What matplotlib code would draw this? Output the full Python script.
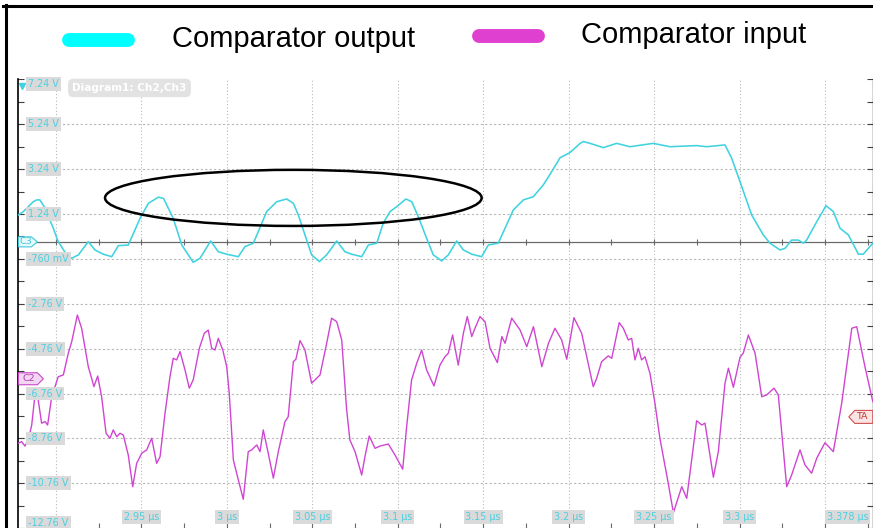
import numpy as np
import matplotlib.pyplot as plt
import matplotlib.transforms as mtransforms
from matplotlib.lines import Line2D
from matplotlib.patches import Ellipse, Polygon

W, H, DPI = 873, 528, 100

# Ch3: comparator output (time in us, volts on the display scale)
out_t = [2.878, 2.8809, 2.8867, 2.8887, 2.8906, 2.8936, 2.8984, 2.9013, 2.9063, 2.9092,
         2.9131, 2.9189, 2.9228, 2.9277, 2.9326, 2.9365, 2.9423, 2.9492, 2.9541, 2.9599,
         2.9629, 2.9686, 2.9736, 2.9803, 2.9843, 2.9905, 2.9950, 2.9999, 3.0067, 3.0106,
         3.0155, 3.0233, 3.0292, 3.0350, 3.0389, 3.0418, 3.0457, 3.0496, 3.0541, 3.0584,
         3.0643, 3.0691, 3.0731, 3.0789, 3.0828, 3.0877, 3.0915, 3.0955, 3.0994, 3.1048,
         3.1082, 3.1120, 3.1169, 3.1208, 3.1257, 3.1296, 3.1345, 3.1384, 3.1433, 3.1491,
         3.1530, 3.1588, 3.1628, 3.1676, 3.1735, 3.1793, 3.1852, 3.1901, 3.1950, 3.2008,
         3.2067, 3.2086, 3.2125, 3.2203, 3.2281, 3.2359, 3.2495, 3.2593, 3.2749, 3.2808,
         3.2915, 3.2954, 3.3003, 3.3071, 3.3139, 3.3178, 3.3237, 3.3266, 3.3305, 3.3344,
         3.3374, 3.3393, 3.3452, 3.3506, 3.3549, 3.3588, 3.3637, 3.3696, 3.3724, 3.378]
out_v = [1.20, 1.35, 1.79, 1.87, 1.87, 1.50, 0.61, 0.01, -0.58, -0.73,
         -0.58, 0.01, -0.36, -0.55, -0.66, -0.17, -0.14, 1.05, 1.72, 1.99,
         1.94, 1.05, -0.14, -0.91, -0.73, 0.04, -0.44, -0.55, -0.66, -0.21,
         -0.06, 1.35, 1.79, 1.91, 1.72, 1.20, 0.31, -0.58, -0.88, -0.58,
         0.04, -0.44, -0.55, -0.66, -0.14, -0.06, 0.83, 1.35, 1.57, 1.91,
         1.79, 1.12, 0.16, -0.58, -0.85, -0.58, 0.04, -0.36, -0.55, -0.66,
         -0.14, -0.06, 0.61, 1.42, 1.87, 2.01, 2.54, 3.13, 3.75, 3.98,
         4.39, 4.47, 4.39, 4.20, 4.39, 4.24, 4.39, 4.24, 4.29, 4.24,
         4.32, 3.73, 2.68, 1.20, 0.31, -0.06, -0.36, -0.29, 0.08, 0.08,
         -0.06, 0.08, 0.90, 1.61, 1.35, 0.61, 0.31, -0.55, -0.55, -0.06]

# Ch2: comparator input
in_t = [2.878, 2.8799, 2.8818, 2.8838, 2.8858, 2.8877, 2.8893, 2.8916, 2.8936, 2.8951,
        2.8975, 2.9013, 2.9043, 2.9072, 2.9092, 2.9125, 2.9150, 2.9189, 2.9222, 2.9244,
        2.9267, 2.9293, 2.9316, 2.9335, 2.9355, 2.9375, 2.9394, 2.9423, 2.9449, 2.9472,
        2.9502, 2.9531, 2.9560, 2.9589, 2.9609, 2.9638, 2.9667, 2.9686, 2.9706, 2.9726,
        2.9755, 2.9780, 2.9803, 2.9839, 2.9868, 2.9891, 2.9911, 2.9930, 2.9950, 2.9976,
        2.9999, 3.0014, 3.0038, 3.0067, 3.0096, 3.0125, 3.0145, 3.0175, 3.0194, 3.0213,
        3.0242, 3.0272, 3.0301, 3.0340, 3.0359, 3.0389, 3.0404, 3.0428, 3.0457, 3.0496,
        3.0545, 3.0584, 3.0613, 3.0643, 3.0672, 3.0701, 3.0720, 3.0750, 3.0789, 3.0808,
        3.0833, 3.0867, 3.0896, 3.0945, 3.0984, 3.1029, 3.1052, 3.1081, 3.1111, 3.1140,
        3.1169, 3.1212, 3.1247, 3.1276, 3.1296, 3.1321, 3.1354, 3.1384, 3.1407, 3.1433,
        3.1452, 3.1481, 3.1511, 3.1540, 3.1583, 3.1609, 3.1628, 3.1667, 3.1716, 3.1755,
        3.1794, 3.1843, 3.1882, 3.1920, 3.1959, 3.1989, 3.2031, 3.2076, 3.2106, 3.2144,
        3.2164, 3.2193, 3.2232, 3.2252, 3.2296, 3.2320, 3.2349, 3.2369, 3.2388, 3.2408,
        3.2427, 3.2447, 3.2476, 3.2505, 3.2534, 3.2583, 3.2613, 3.2662, 3.2691, 3.2720,
        3.2749, 3.2779, 3.2798, 3.2847, 3.2876, 3.2915, 3.2935, 3.2964, 3.3003, 3.3022,
        3.3052, 3.3091, 3.3130, 3.3159, 3.3202, 3.3227, 3.3276, 3.3305, 3.3354, 3.3383,
        3.3422, 3.3452, 3.3500, 3.3549, 3.3598, 3.3657, 3.3686, 3.3734, 3.378]
in_v = [-8.97, -8.90, -9.10, -8.83, -8.16, -6.82, -6.90, -8.08, -8.01, -8.16,
        -6.90, -6.01, -5.93, -4.96, -4.45, -3.26, -3.85, -5.56, -6.45, -5.98,
        -6.90, -8.53, -8.75, -8.38, -8.68, -8.53, -8.61, -9.50, -10.91, -9.87,
        -9.42, -9.27, -8.75, -9.87, -9.57, -7.64, -6.01, -5.19, -5.26, -4.89,
        -5.71, -6.52, -6.15, -4.74, -4.07, -3.93, -4.74, -4.82, -4.30, -4.82,
        -5.56, -6.75, -9.72, -10.61, -11.47, -9.35, -9.27, -9.05, -9.35, -8.38,
        -9.42, -10.53, -9.35, -8.01, -7.79, -5.34, -5.23, -4.40, -4.82, -6.30,
        -5.93, -4.52, -3.40, -3.56, -4.37, -7.49, -8.83, -9.35, -10.39, -9.57,
        -8.65, -9.20, -9.10, -9.01, -9.50, -10.13, -8.24, -6.15, -5.41, -4.82,
        -5.71, -6.42, -5.49, -5.12, -4.96, -4.15, -5.49, -4.07, -3.33, -4.22,
        -3.85, -3.33, -3.56, -4.74, -5.38, -4.22, -4.52, -3.40, -3.93, -4.67,
        -3.78, -5.56, -4.52, -3.85, -4.37, -5.23, -3.38, -4.07, -5.12, -6.45,
        -6.08, -5.34, -5.08, -5.19, -3.60, -3.85, -4.37, -4.30, -5.26, -4.74,
        -5.26, -5.12, -5.86, -7.19, -8.75, -10.76, -12.07, -10.91, -11.43, -9.72,
        -7.97, -8.16, -8.08, -10.49, -9.35, -6.30, -5.63, -6.48, -5.14, -4.96,
        -4.15, -4.96, -6.90, -6.82, -6.52, -6.82, -10.91, -10.39, -9.27, -9.94,
        -10.31, -9.64, -8.95, -9.35, -7.19, -3.85, -3.78, -5.56, -7.12]

v_grid = [7.24, 5.24, 3.24, 1.24, -0.76, -2.76, -4.76, -6.76, -8.76, -10.76, -12.76]
v_labels = ['7.24 V', '5.24 V', '3.24 V', '1.24 V', '-760 mV', '-2.76 V', '-4.76 V',
            '-6.76 V', '-8.76 V', '-10.76 V', '-12.76 V']
t_grid = [2.9, 2.95, 3.0, 3.05, 3.1, 3.15, 3.2, 3.25, 3.3, 3.35]
t_labels = ['2.95 µs', '3 µs', '3.05 µs', '3.1 µs', '3.15 µs', '3.2 µs', '3.25 µs', '3.3 µs']
t_label_pos = [2.95, 3.0, 3.05, 3.1, 3.15, 3.2, 3.25, 3.3]
t_end_label = '3.378 µs'

t_min, t_max = 2.878, 3.378
v_min, v_max = -12.76, 7.24
ch3_level, ch2_level, trig_level = 0.0, -6.1, -7.8

# oval drawn around the three small output pulses
oval_center = (3.0389, 1.96)
oval_size = (0.2204, 2.5)

cyan_trace = '#3fd3e0'
magenta_trace = '#cf45d2'
label_cyan = '#4ccfe0'
grid_col = '#b8b8b8'

fig = plt.figure(figsize=(W / DPI, H / DPI), dpi=DPI)
fig.patch.set_facecolor('white')


def fx(x):
    return x / W


def fy(y):
    return 1 - y / H


ax = fig.add_axes([fx(18.4), -0.2 / H, (872.8 - 18.4) / W, 448.8 / H])
ax.set_xlim(t_min, t_max)
ax.set_ylim(v_min, v_max)
ax.set_xticks([])
ax.set_yticks([])
for side in ['top', 'bottom']:
    ax.spines[side].set_visible(False)
ax.spines['left'].set_color('black')
ax.spines['left'].set_linewidth(1.2)
ax.spines['right'].set_color('#303030')
ax.spines['right'].set_linewidth(1.0)

# scope graticule
for v in v_grid[1:-1]:
    ax.axhline(v, color=grid_col, lw=0.8, ls=(0, (2, 2)), zorder=1)
for t in t_grid:
    ax.axvline(t, color=grid_col, lw=0.8, ls=(0, (1, 2)), zorder=1)

# ground axis of ch3 with its minor ticks
ax.axhline(ch3_level, color='#6a6a6a', lw=0.9, zorder=2)
minor_t = np.arange(2.9, t_max, 0.025)
ax.plot(minor_t, np.full_like(minor_t, ch3_level), ls='none', marker='|', ms=4,
        mew=0.8, color='#6a6a6a', zorder=2)
ax.plot(minor_t, np.full_like(minor_t, v_min), ls='none', marker='|', ms=7,
        mew=0.8, color='#6a6a6a', zorder=2)
minor_v = np.arange(v_min, v_max + 0.01, 1.0)
ax.plot(np.full_like(minor_v, t_min), minor_v, ls='none', marker='_', ms=8,
        mew=0.8, color='#404040', zorder=2)
ax.plot(np.full_like(minor_v, t_max), minor_v, ls='none', marker='_', ms=8,
        mew=0.8, color='#404040', zorder=2)

# traces
ax.plot(out_t, out_v, color=cyan_trace, lw=1.15, zorder=4)
ax.plot(in_t, in_v, color=magenta_trace, lw=1.0, zorder=4)

ax.add_patch(Ellipse(oval_center, oval_size[0], oval_size[1], fill=False,
                     ec='black', lw=1.8, zorder=5))

# value labels in grey boxes
ytrans = mtransforms.blended_transform_factory(ax.transAxes, ax.transData)
box = dict(boxstyle='square,pad=0.2', fc='#dadada', ec='none')
for i, (v, lab) in enumerate(zip(v_grid, v_labels)):
    va = 'center'
    if i == 0:
        va = 'top'
    elif i == len(v_grid) - 1:
        va = 'bottom'
    ax.text(0.0115, v, lab, transform=ytrans, ha='left', va=va, fontsize=6.9,
            color=label_cyan, bbox=box, zorder=6)

xtrans = mtransforms.blended_transform_factory(ax.transData, ax.transAxes)
for t, lab in zip(t_label_pos, t_labels):
    ax.text(t, 0.025, lab, transform=xtrans, ha='center', va='center', fontsize=6.9,
            color=label_cyan, bbox=box, zorder=6)
ax.text(0.995, 0.025, t_end_label, transform=ax.transAxes, ha='right', va='center',
        fontsize=6.9, color=label_cyan, bbox=box, zorder=6)

ax.text(0.130, 0.981, 'Diagram1: Ch2,Ch3', transform=ax.transAxes, ha='center',
        va='center', fontsize=7.6, fontweight='bold', color='white',
        bbox=dict(boxstyle='round,pad=0.4,rounding_size=0.5', fc='#e2e2e2', ec='none'),
        zorder=6)

# ch3 marker at the top left corner
ax.plot([0.004], [0.985], transform=ax.transAxes, marker='v', ms=5, color=cyan_trace,
        clip_on=False, zorder=7)


def tag(level, x_axes, text, width, half_h, fc, ec, tc, pointing='right'):
    x0, y0 = ytrans.transform((x_axes, level))
    tip = 6
    if pointing == 'right':
        verts = [(x0, y0 - half_h), (x0 + width - tip, y0 - half_h), (x0 + width, y0),
                 (x0 + width - tip, y0 + half_h), (x0, y0 + half_h)]
        tx = x0 + (width - tip) / 2 + 1
    else:
        verts = [(x0, y0 - half_h), (x0 - width + tip, y0 - half_h), (x0 - width, y0),
                 (x0 - width + tip, y0 + half_h), (x0, y0 + half_h)]
        tx = x0 - width + tip + 7
    poly = Polygon(verts, closed=True, fc=fc, ec=ec, lw=0.8,
                   transform=mtransforms.IdentityTransform(), zorder=7)
    poly.set_clip_path(ax.patch)
    fig.add_artist(poly)
    txt = fig.text(tx, y0, text, transform=mtransforms.IdentityTransform(),
                   ha='center', va='center', fontsize=6.8, color=tc, zorder=8)
    txt.set_clip_path(ax.patch)


tag(ch3_level, 0.0, 'C3', 19, 5, '#e6f9fb', '#40c8d8', '#40c8d8')
tag(ch2_level, 0.0, 'C2', 25, 6, '#f3d6f3', '#c848c8', '#b040b0')
tag(trig_level, 1.0, 'TA', 24, 6.5, '#fbe4e4', '#d05050', '#c03838', pointing='left')

# legend above the plot
fig.add_artist(Line2D([fx(69), fx(128)], [fy(40), fy(40)], color='#00ffff', lw=10,
                      solid_capstyle='round', transform=fig.transFigure))
fig.add_artist(Line2D([fx(479), fx(538)], [fy(36), fy(36)], color='#e040d0', lw=10,
                      solid_capstyle='round', transform=fig.transFigure))
fig.text(fx(172), fy(47), 'Comparator output', fontsize=21, family='Liberation Sans',
         va='baseline', ha='left', color='black')
fig.text(fx(581), fy(43), 'Comparator input', fontsize=21, family='Liberation Sans',
         va='baseline', ha='left', color='black')

# outer frame
fig.add_artist(Line2D([fx(3), fx(873)], [fy(5.5), fy(5.5)], color='black', lw=2.2,
                      transform=fig.transFigure))
fig.add_artist(Line2D([fx(5.5), fx(5.5)], [fy(4.5), fy(528)], color='black', lw=2.2,
                      transform=fig.transFigure))

fig.savefig('out.png', dpi=DPI)
